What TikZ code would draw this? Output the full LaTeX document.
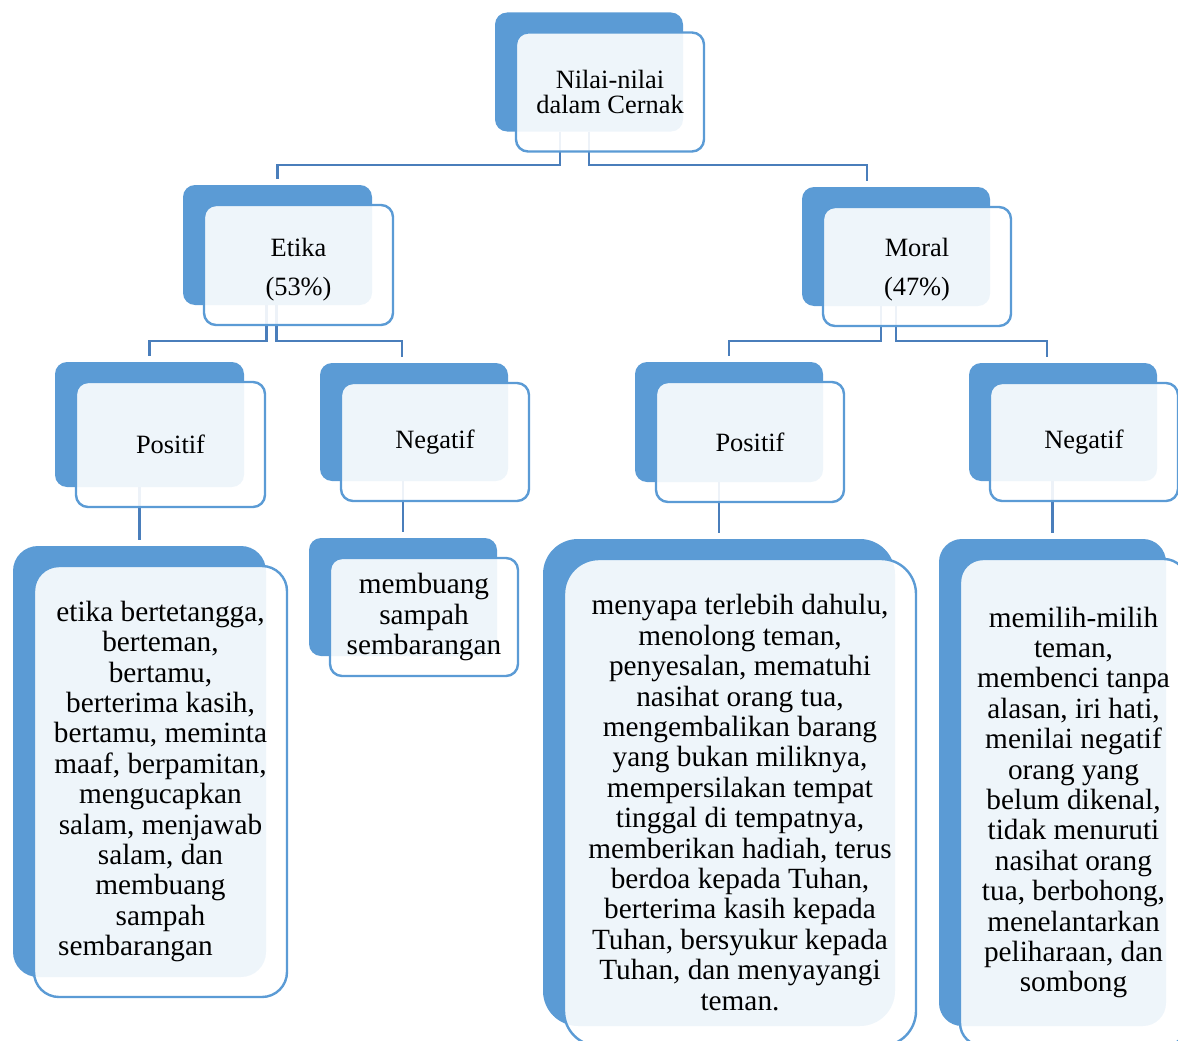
\documentclass[tikz,border=0pt]{standalone}
\usepackage{fontspec}
\setmainfont{Liberation Serif}
\usetikzlibrary{positioning}
\definecolor{accent}{HTML}{5B9BD5}
\definecolor{linkblue}{HTML}{4A7EBB}
\pgfdeclarelayer{back}
\pgfsetlayers{back,main}

\begin{document}
\begin{tikzpicture}[x=1pt, y=-1pt,
    frontbox/.style={draw=accent, line width=2.4pt, fill=white, fill opacity=0.9, text opacity=1,
      align=center, inner sep=0pt, font=\fontsize{26.4}{25}\selectfont},
    backbox/.style={fill=accent, inner sep=0pt},
    bigtext/.style={font=\fontsize{29.3}{30.4}\selectfont},
    link/.style={draw=linkblue, line width=2.4pt, shorten >=6pt}]

		\useasboundingbox (0,0) rectangle (1178,1041);
		\clip (0,0) rectangle (1178,1041);

		% front cards
		\node[frontbox, minimum width=188pt, minimum height=119pt, rounded corners=12pt] (top) at (610,92) {Nilai-nilai\\dalam Cernak};
		\node[frontbox, minimum width=189pt, minimum height=120pt, rounded corners=12pt] (etika) at (298.5,265) {\rule{0pt}{27pt}Etika\\[14pt](53\%)};
		\node[frontbox, minimum width=188pt, minimum height=119pt, rounded corners=12pt] (moral) at (917,266.5) {\rule{0pt}{25pt}Moral\\[14pt](47\%)};
		\node[frontbox, minimum width=189pt, minimum height=125pt, rounded corners=12pt] (etpos) at (170.5,444.5) {Positif};
		\node[frontbox, minimum width=188pt, minimum height=118pt, rounded corners=12pt] (etneg) at (435,442) {Negatif};
		\node[frontbox, minimum width=188pt, minimum height=120pt, rounded corners=12pt] (mopos) at (750,442) {Positif};
		\node[frontbox, minimum width=188pt, minimum height=118pt, rounded corners=12pt] (moneg) at (1084,442) {Negatif};

		\node[frontbox, bigtext, minimum width=253pt, minimum height=431pt, rounded corners=25pt] (etposdet) at (160.5,781.5)
			{etika bertetangga,\\berteman,\\bertamu,\\berterima kasih,\\bertamu, meminta\\maaf, berpamitan,\\mengucapkan\\salam, menjawab\\salam, dan\\membuang\\sampah\\sembarangan\hspace*{50pt}};
		\node[frontbox, bigtext, minimum width=188pt, minimum height=118pt, rounded corners=12pt] (etnegdet) at (424,617)
			{\fontsize{29.3}{31}\selectfont membuang\\sampah\\sembarangan};
		\node[frontbox, bigtext, minimum width=352pt, minimum height=487pt, rounded corners=35pt] (moposdet) at (740,802.5)
			{menyapa terlebih dahulu,\\menolong teman,\\penyesalan, mematuhi\\nasihat orang tua,\\mengembalikan barang\\yang bukan miliknya,\\mempersilakan tempat\\tinggal di tempatnya,\\memberikan hadiah, terus\\berdoa kepada Tuhan,\\berterima kasih kepada\\Tuhan, bersyukur kepada\\Tuhan, dan menyayangi\\teman.};
		\node[frontbox, bigtext, minimum width=227pt, minimum height=487pt, rounded corners=23pt] (monegdet) at (1073.5,802.5)
			{memilih-milih\\teman,\\membenci tanpa\\alasan, iri hati,\\menilai negatif\\orang yang\\belum dikenal,\\tidak menuruti\\nasihat orang\\tua, berbohong,\\menelantarkan\\peliharaan, dan\\sombong};

		\begin{pgfonlayer}{back}
		% back cards
		\foreach \n/\w/\h/\r in {top/188/119/12, etika/189/120/12, moral/188/119/12, etpos/189/125/12,
				etneg/188/118/12, mopos/188/120/12, moneg/188/118/12, etposdet/253/431/25,
				etnegdet/188/118/12, moposdet/352/487/35, monegdet/227/487/23}
			\node[backbox, minimum width=\w pt, minimum height=\h pt, rounded corners=\r pt] (\n b) at ([shift={(-21,-20)}]\n.center) {};

		% connectors
		\draw[link] ([xshift=-29pt]topb.south) -- ++(0,33) -| (etikab.north);
		\draw[link] (topb.south) -- ++(0,33) -| ([xshift=-29pt]moralb.north);
		\draw[link] ([xshift=-11pt]etikab.south) -- ++(0,36) -| (etposb.north);
		\draw[link] ([xshift=-1pt]etikab.south) -- ++(0,36) -| ([xshift=-12pt]etnegb.north);
		\draw[link] ([xshift=-15pt]moralb.south) -- ++(0,35) -| (moposb.north);
		\draw[link] (moralb.south) -- ++(0,35) -| ([xshift=-16pt]monegb.north);
		\draw[link] (etposb.south -| etposdetb.north) -- (etposdetb.north);
		\draw[link] (etnegb.south -| etnegdetb.north) -- (etnegdetb.north);
		\draw[link] (moposb.south -| moposdetb.north) -- (moposdetb.north);
		\draw[link] (monegb.south -| monegdetb.north) -- (monegdetb.north);
		\end{pgfonlayer}

\end{tikzpicture}
\end{document}
